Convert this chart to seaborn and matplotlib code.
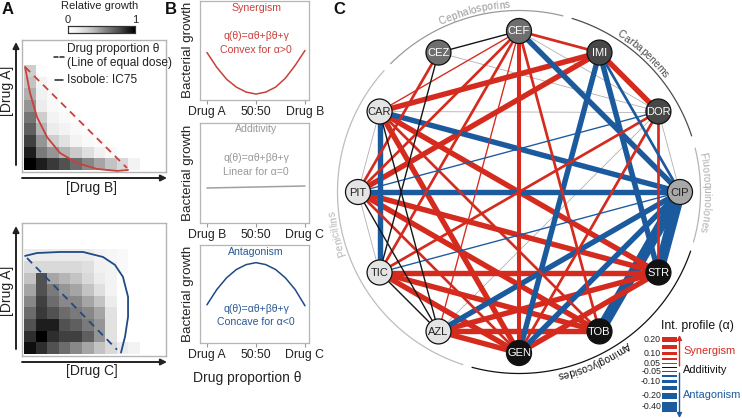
import numpy as np
import matplotlib
matplotlib.use("Agg")
import matplotlib.pyplot as plt
import seaborn as sns
from matplotlib.textpath import TextToPath
from matplotlib.font_manager import FontProperties
from matplotlib.patches import Circle, Rectangle

sns.set_theme(style="white")
plt.rcParams['font.family'] = ['Liberation Sans', 'DejaVu Sans']

W, H, DPI = 742, 418, 100

# ---------------- data ----------------
# Panel A: relative growth checkerboards (rows top->bottom, cols left->right)
growth_AB = [
    [0.30, 0.03, 0, 0, 0, 0, 0, 0, 0, 0],
    [0.35, 0.10, 0.03, 0, 0, 0, 0, 0, 0, 0],
    [0.42, 0.12, 0.05, 0, 0, 0, 0, 0, 0, 0],
    [0.50, 0.15, 0.05, 0.02, 0, 0, 0, 0, 0, 0],
    [0.62, 0.30, 0.10, 0.05, 0.02, 0, 0, 0, 0, 0],
    [0.70, 0.40, 0.15, 0.10, 0.05, 0.02, 0, 0, 0, 0],
    [0.80, 0.50, 0.30, 0.20, 0.10, 0.05, 0.03, 0, 0, 0],
    [0.90, 0.60, 0.50, 0.40, 0.32, 0.22, 0.12, 0.06, 0, 0],
    [1.00, 0.90, 0.82, 0.75, 0.65, 0.55, 0.45, 0.35, 0.25, 0.10],
]
growth_AC = [
    [0.15, 0.15, 0.15, 0.15, 0.15, 0.15, 0.10, 0.08, 0.05, 0],
    [0.25, 0.25, 0.25, 0.25, 0.25, 0.22, 0.12, 0.10, 0.05, 0],
    [0.35, 0.75, 0.45, 0.40, 0.35, 0.25, 0.15, 0.10, 0, 0],
    [0.45, 0.75, 0.60, 0.50, 0.45, 0.35, 0.22, 0.10, 0, 0],
    [0.55, 0.80, 0.65, 0.55, 0.55, 0.45, 0.35, 0.15, 0, 0],
    [0.65, 0.82, 0.75, 0.65, 0.60, 0.55, 0.45, 0.20, 0, 0],
    [0.75, 0.90, 0.90, 0.75, 0.70, 0.60, 0.50, 0.20, 0, 0],
    [0.85, 1.00, 0.85, 0.80, 0.80, 0.70, 0.50, 0.20, 0, 0],
    [0.95, 0.85, 0.75, 0.65, 0.55, 0.45, 0.35, 0.25, 0.15, 0.10],
]
# isoboles in checkerboard cell units (x = column, y = row from top)
iso_AB_x = [0.09, 0.52, 1.12, 1.98, 3.10, 4.57, 6.29, 8.02, 8.97]
iso_AB_y = [0.17, 2.40, 4.46, 6.17, 7.54, 8.40, 8.91, 9.08, 9.00]
dose_AB_x = [0.09, 8.88]
dose_AB_y = [0.17, 8.83]
iso_AC_x = [0.09, 1.12, 3.10, 5.09, 6.81, 7.84, 8.53, 8.97, 8.97, 8.71, 8.36]
iso_AC_y = [0.57, 0.32, 0.23, 0.23, 0.66, 1.34, 2.37, 4.09, 5.80, 7.51, 8.88]
dose_AC_x = [0.26, 8.02]
dose_AC_y = [0.75, 8.63]

# Panel B: bacterial growth vs drug proportion
theta = [0.0, 0.1, 0.2, 0.3, 0.4, 0.5, 0.6, 0.7, 0.8, 0.9, 1.0]
growth_syn = [0.48, 0.33, 0.21, 0.13, 0.08, 0.06, 0.08, 0.13, 0.22, 0.35, 0.50]
growth_add = [0.35, 0.352, 0.354, 0.356, 0.358, 0.36, 0.362, 0.364, 0.366, 0.368, 0.37]
growth_ant = [0.39, 0.545, 0.665, 0.75, 0.80, 0.82, 0.80, 0.75, 0.665, 0.545, 0.38]

# Panel C: drug interaction network
drugs = ["CEF", "IMI", "DOR", "CIP", "STR", "TOB", "GEN", "AZL", "TIC", "PIT", "CAR", "CEZ"]
drug_shade = ["#6e6e6e", "#474747", "#474747", "#a8a8a8", "#111111", "#111111", "#111111",
              "#e4e4e4", "#e4e4e4", "#e4e4e4", "#e4e4e4", "#6e6e6e"]
drug_text = ["white", "white", "white", "#222222", "white", "white", "white",
             "#222222", "#222222", "#222222", "#222222", "white"]
edge_a = ["CAR", "CAR", "CAR", "CAR", "CAR", "PIT", "PIT", "PIT", "PIT", "PIT", "PIT",
          "TIC", "TIC", "TIC", "TIC", "TIC", "AZL", "AZL", "AZL", "AZL", "GEN", "DOR", "DOR",
          "IMI", "CEF", "CEF", "CEF",
          "CAR", "PIT", "CAR", "CEF", "IMI", "IMI", "IMI", "CIP", "CIP", "GEN", "AZL", "TIC", "PIT",
          "CEZ", "CEZ", "CAR", "PIT", "TIC",
          "CEZ", "CAR", "CEF", "PIT", "PIT", "AZL", "DOR"]
edge_b = ["IMI", "CEF", "STR", "GEN", "TOB", "IMI", "CEZ", "CEF", "STR", "GEN", "TOB",
          "STR", "GEN", "TOB", "CEF", "DOR", "STR", "TOB", "GEN", "CEF", "STR", "GEN", "STR",
          "DOR", "IMI", "GEN", "TOB",
          "TIC", "CIP", "CIP", "CIP", "GEN", "STR", "CIP", "STR", "TOB", "CIP", "CIP", "CIP", "DOR",
          "CEF", "TIC", "AZL", "AZL", "AZL",
          "DOR", "DOR", "DOR", "CAR", "TIC", "DOR", "CIP"]
edge_alpha = [0.2, 0.05, 0.2, 0.2, 0.1, 0.2, 0.1, 0.1, 0.2, 0.1, 0.2,
              0.2, 0.2, 0.2, 0.1, 0.1, 0.2, 0.2, 0.2, 0.05, 0.2, 0.1, 0.1,
              0.2, 0.1, 0.15, 0.1,
              -0.2, -0.2, -0.2, -0.2, -0.2, -0.2, -0.1, -0.4, -0.4, -0.2, -0.2, -0.05, -0.05,
              0.0, 0.0, 0.0, 0.0, 0.0,
              np.nan, np.nan, np.nan, np.nan, np.nan, np.nan, np.nan]
classes = ["Cephalosporins", "Carbapenems", "Fluoroquinolones", "Aminoglycosides", "Penicillins"]
legend_alpha = [0.20, 0.15, 0.10, 0.075, 0.05, 0.0, -0.05, -0.075, -0.10, -0.15, -0.20, -0.40]
legend_ticks = ["0.20", "", "0.10", "", "0.05", "", "-0.05", "", "-0.10", "", "-0.20", "-0.40"]

RED = "#d52b1e"
BLUE = "#1c5a9e"
TRED = "#c9403b"
TBLUE = "#2b5a95"

fig = plt.figure(figsize=(W / DPI, H / DPI), dpi=DPI)


def px_axes(x0, y0, x1, y1):
    return fig.add_axes([x0 / W, 1 - y1 / H, (x1 - x0) / W, (y1 - y0) / H])


# ---------------- Panel A ----------------
cax = px_axes(68, 26, 135, 33)
for k, (fy0, fy1, hy0, hy1, mat) in enumerate([(40, 172, 65, 170, growth_AB),
                                                (223, 356, 249.3, 354, growth_AC)]):
    fr = px_axes(22, fy0, 166, fy1)
    fr.set_xticks([]); fr.set_yticks([])
    for sp in fr.spines.values():
        sp.set_color("#b5b5b5"); sp.set_linewidth(1.0)
    hm = px_axes(24, hy0, 140, hy1)
    if k == 0:
        sns.heatmap(np.array(mat), cmap="Greys", vmin=0, vmax=1, ax=hm, cbar=True, cbar_ax=cax,
                    cbar_kws=dict(orientation="horizontal"), xticklabels=False, yticklabels=False)
    else:
        sns.heatmap(np.array(mat), cmap="Greys", vmin=0, vmax=1, ax=hm, cbar=False,
                    xticklabels=False, yticklabels=False)
    hm.set_xlim(0, 10); hm.set_ylim(9, 0)
    if k == 0:
        hm.plot(iso_AB_x, iso_AB_y, color=TRED, lw=1.3, clip_on=False)
        hm.plot(dose_AB_x, dose_AB_y, color=TRED, lw=1.3, ls=(0, (4, 3)), clip_on=False)
    else:
        hm.plot(iso_AC_x, iso_AC_y, color="#1f4a86", lw=1.3, clip_on=False)
        hm.plot(dose_AC_x, dose_AC_y, color="#1f4a86", lw=1.3, ls=(0, (4, 3)), clip_on=False)

cax.xaxis.set_ticks_position("top")
cax.set_xticks([0, 1])
cax.set_xticklabels(["0", "1"], fontsize=8)
cax.tick_params(axis="x", length=0, pad=1)
for sp in cax.spines.values():
    sp.set_visible(True); sp.set_color("#333333"); sp.set_linewidth(0.8)

# ---------------- Panel B ----------------
boxes = [(1, 100, growth_syn, TRED, ["Drug A", "50:50", "Drug B"]),
         (123, 223, growth_add, "#a0a0a0", ["Drug B", "50:50", "Drug C"]),
         (245, 343, growth_ant, "#1f4a86", ["Drug A", "50:50", "Drug C"])]
for (y0, y1, vals, col, labs) in boxes:
    ax = px_axes(200, y0, 309, y1)
    sns.lineplot(x=theta, y=vals, ax=ax, color=col, lw=1.1)
    ax.set_xlim(-0.071, 1.041); ax.set_ylim(0, 1)
    ax.set_xticks([0, 0.5, 1]); ax.set_xticklabels(labs)
    ax.set_yticks([])
    ax.set_xlabel(""); ax.set_ylabel("")
    ax.tick_params(axis="x", bottom=True, length=3, width=0.8, color="#999999",
                   labelsize=8.8, pad=1.5, labelcolor="#222222")
    for sp in ax.spines.values():
        sp.set_color("#b5b5b5"); sp.set_linewidth(0.9)

# ---------------- overlay ----------------
ov = fig.add_axes([0, 0, 1, 1])
ov.set_xlim(0, W); ov.set_ylim(H, 0)
ov.axis("off")
ov.patch.set_alpha(0)

# panel letters
ov.text(2, 9, "A", fontsize=12, fontweight="bold", va="center", ha="left", color="#111")
ov.text(165, 9, "B", fontsize=12, fontweight="bold", va="center", ha="left", color="#111")
ov.text(333, 9, "C", fontsize=12, fontweight="bold", va="center", ha="left", color="#111")

# Panel A texts & arrows
ov.text(100, 6, "Relative growth", fontsize=8, ha="center", va="center", color="#222")
for (ytop, ybot, yax, lab_x, lab_y) in [(42, 164, 178, "[Drug B]", 188), (226, 348, 362, "[Drug C]", 371)]:
    ov.annotate("", xy=(16, ytop), xytext=(16, ybot + 1),
                arrowprops=dict(arrowstyle="-|>", lw=1.4, color="#222", mutation_scale=9,
                                shrinkA=0, shrinkB=0))
    ov.annotate("", xy=(167, yax), xytext=(22, yax),
                arrowprops=dict(arrowstyle="-|>", lw=1.4, color="#222", mutation_scale=9,
                                shrinkA=0, shrinkB=0))
    ov.text(92, lab_y, lab_x, fontsize=10, ha="center", va="center", color="#222")
ov.text(7, 91, "[Drug A]", fontsize=10, rotation=90, ha="center", va="center", color="#222")
ov.text(7, 291, "[Drug A]", fontsize=10, rotation=90, ha="center", va="center", color="#222")
ov.plot([54, 57.5], [57, 57], color="#222", lw=1.1)
ov.plot([60, 63.5], [57, 57], color="#222", lw=1.1)
ov.text(67, 49, "Drug proportion θ", fontsize=8.6, ha="left", va="center", color="#222")
ov.text(67, 63, "(Line of equal dose)", fontsize=8.6, ha="left", va="center", color="#222")
ov.plot([55, 63], [80, 80], color="#222", lw=1.1)
ov.text(67, 80, "Isobole: IC75", fontsize=8.6, ha="left", va="center", color="#222")

# Panel B texts
for yc in (50, 173, 294):
    ov.text(188, yc, "Bacterial growth", fontsize=9.6, rotation=90, ha="center", va="center",
            color="#222")
ov.text(247, 378, "Drug proportion θ", fontsize=10, ha="center", va="center", color="#222")
ov.text(256, 8, "Synergism", fontsize=7.6, ha="center", va="center", color=TRED)
ov.text(256, 36, "q(θ)=αθ+βθ+γ", fontsize=7.6, ha="center", va="center", color=TRED)
ov.text(256, 50, "Convex for α>0", fontsize=7.6, ha="center", va="center", color=TRED)
ov.text(256, 129, "Additivity", fontsize=7.6, ha="center", va="center", color="#999999")
ov.text(256, 158, "q(θ)=αθ+βθ+γ", fontsize=7.6, ha="center", va="center", color="#999999")
ov.text(256, 172, "Linear for α=0", fontsize=7.6, ha="center", va="center", color="#999999")
ov.text(256, 252, "Antagonism", fontsize=7.6, ha="center", va="center", color=TBLUE)
ov.text(256, 309, "q(θ)=αθ+βθ+γ", fontsize=7.6, ha="center", va="center", color=TBLUE)
ov.text(256, 322, "Concave for α<0", fontsize=7.6, ha="center", va="center", color=TBLUE)

# ---------------- Panel C network ----------------
CX, CY, R = 519, 192, 161
ang = {d: np.radians(90 - 30 * i) for i, d in enumerate(drugs)}
pos = {d: (CX + R * np.cos(a), CY - R * np.sin(a)) for d, a in ang.items()}

edges = list(zip(edge_a, edge_b, edge_alpha))
ns = [e for e in edges if np.isnan(e[2])]
add = [e for e in edges if not np.isnan(e[2]) and e[2] == 0]
col = [e for e in edges if not np.isnan(e[2]) and e[2] != 0]
for a, b, _ in ns:
    ov.plot([pos[a][0], pos[b][0]], [pos[a][1], pos[b][1]], color="#b0b0b0", lw=0.6,
            solid_capstyle="butt", zorder=2)
for a, b, al in sorted(col, key=lambda e: -abs(e[2])):
    ov.plot([pos[a][0], pos[b][0]], [pos[a][1], pos[b][1]], color=RED if al > 0 else BLUE,
            lw=abs(al) * 19.5, solid_capstyle="butt", zorder=3)
for a, b, _ in add:
    ov.plot([pos[a][0], pos[b][0]], [pos[a][1], pos[b][1]], color="#151515", lw=1.0,
            solid_capstyle="butt", zorder=4)
for d, sh, tc in zip(drugs, drug_shade, drug_text):
    ov.add_patch(Circle(pos[d], 12.5, facecolor=sh, edgecolor="#111", lw=0.9, zorder=6))
    ov.text(pos[d][0], pos[d][1] + 0.5, d, fontsize=8, ha="center", va="center", color=tc, zorder=7)

# class arcs
arc_spans = [(76, 135), (18, 73), (-16, 14), (-105, -19), (138, 252)]
arc_cols = ["#9a9a9a", "#4d4d4d", "#b5b5b5", "#111111", "#bdbdbd"]
lab_cols = ["#999999", "#4d4d4d", "#b0b0b0", "#111111", "#b5b5b5"]
lab_center = [104, 48, 0, -66, -167]
RA = 181.5
for (a0, a1), c in zip(arc_spans, arc_cols):
    t = np.radians(np.linspace(a0, a1, 100))
    ov.plot(CX + RA * np.cos(t), CY - RA * np.sin(t), color=c, lw=0.9, zorder=1)

ttp = TextToPath()


def arc_text(s, phic, r, fs, color):
    fp = FontProperties(family="Liberation Sans", size=fs)
    pref = [0.0]
    for k in range(1, len(s) + 1):
        w, _, _ = ttp.get_text_width_height_descent(s[:k], fp, ismath=False)
        pref.append(w * DPI / 72.0)
    total = pref[-1]
    start = np.radians(phic) + total / 2 / r
    for k, ch in enumerate(s):
        cpos = 0.5 * (pref[k] + pref[k + 1])
        phi = start - cpos / r
        ov.text(CX + r * np.cos(phi), CY - r * np.sin(phi), ch, fontsize=fs, color=color,
                rotation=np.degrees(phi) - 90, rotation_mode="anchor", ha="center",
                va="baseline", family="Liberation Sans")


for name, pc, c in zip(classes, lab_center, lab_cols):
    arc_text(name, pc, 184.5, 7.4, c)

# legend
ov.text(697, 326, "Int. profile (α)", fontsize=8.8, ha="center", va="center", color="#111")
yy = 336.5
for al, tl in zip(legend_alpha, legend_ticks):
    h = max(abs(al) * 27, 1.0)
    c = RED if al > 0 else (BLUE if al < 0 else "#111111")
    ov.add_patch(Rectangle((662, yy), 15, h, facecolor=c, edgecolor="none"))
    if tl:
        ov.text(661, yy + h / 2, tl, fontsize=6.3, ha="right", va="center", color="#222")
    yy += h + 3.0
ov.annotate("", xy=(679.5, 335), xytext=(679.5, 366),
            arrowprops=dict(arrowstyle="-|>", lw=1.0, color=RED, mutation_scale=7, shrinkA=0, shrinkB=0))
ov.annotate("", xy=(679.5, 418), xytext=(679.5, 373),
            arrowprops=dict(arrowstyle="-|>", lw=1.0, color=BLUE, mutation_scale=7, shrinkA=0, shrinkB=0))
ov.text(683, 351, "Synergism", fontsize=7.9, ha="left", va="center", color=RED)
ov.text(683, 370, "Additivity", fontsize=7.9, ha="left", va="center", color="#111")
ov.text(683, 395, "Antagonism", fontsize=7.9, ha="left", va="center", color=BLUE)

fig.savefig("out.png", dpi=DPI)
